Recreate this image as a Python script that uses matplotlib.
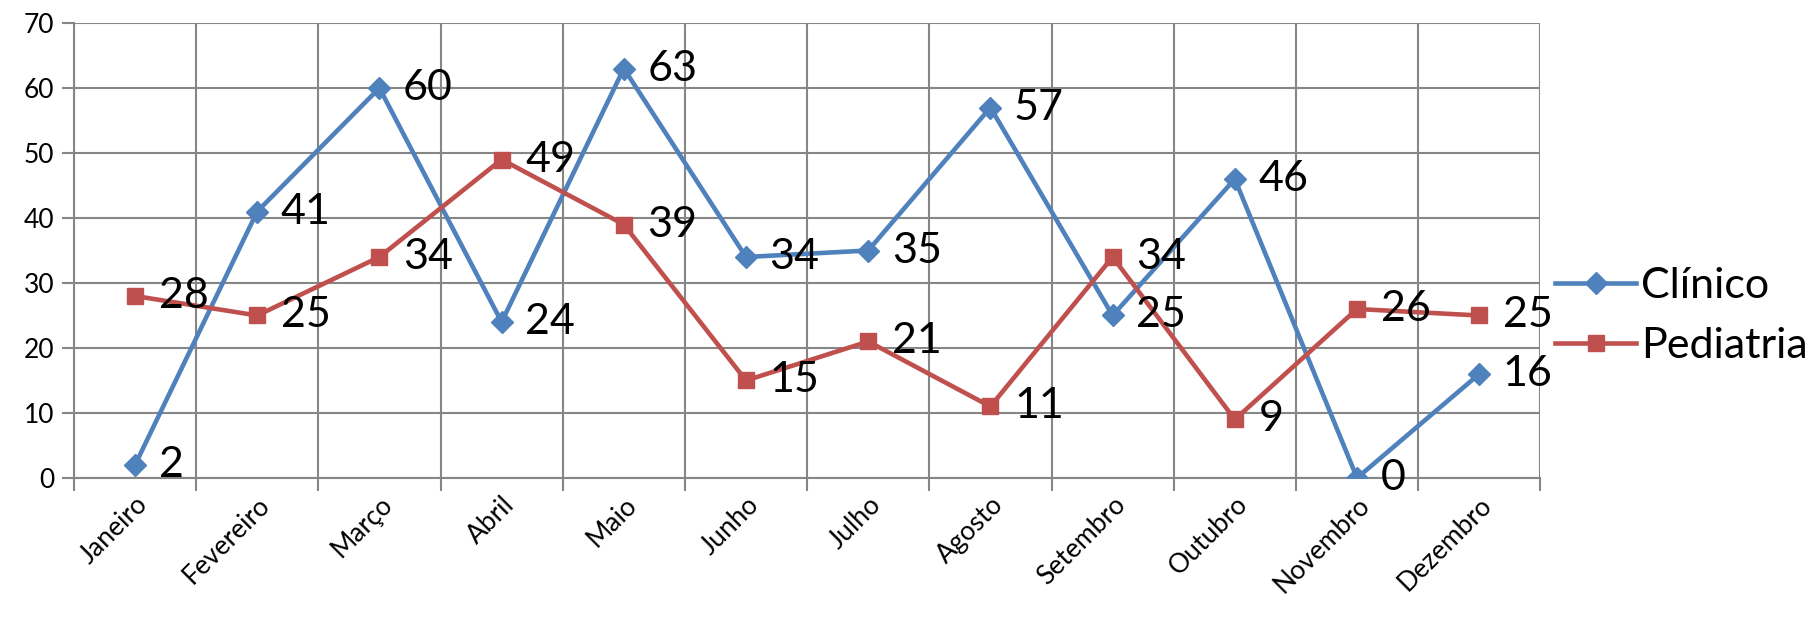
import matplotlib.pyplot as plt

plt.rcParams['font.family'] = ['Lato', 'DejaVu Sans']

meses = ['Janeiro', 'Fevereiro', 'Março', 'Abril', 'Maio', 'Junho', 'Julho',
         'Agosto', 'Setembro', 'Outubro', 'Novembro', 'Dezembro']
clinico = [2, 41, 60, 24, 63, 34, 35, 57, 25, 46, 0, 16]
pediatria = [28, 25, 34, 49, 39, 15, 21, 11, 34, 9, 26, 25]

azul = '#4F81BD'
vermelho = '#C0504D'
cinza = '#868686'

fig = plt.figure(figsize=(18.16, 6.17), dpi=100)
ax = fig.add_axes([0.0407, 0.2253, 0.8075, 0.7374])

x = list(range(len(meses)))
ax.plot(x, clinico, color=azul, linewidth=3.3, marker='D', markersize=11,
        label='Clínico', zorder=3)
ax.plot(x, pediatria, color=vermelho, linewidth=3.3, marker='s', markersize=11,
        label='Pediatria', zorder=3)

# rotulos de dados a direita de cada ponto
for xi, v in zip(x, clinico):
    ax.annotate(str(v), (xi, v), xytext=(17, 0), textcoords='offset points',
                ha='left', va='center', fontsize=31, zorder=4)
for xi, v in zip(x, pediatria):
    ax.annotate(str(v), (xi, v), xytext=(17, 0), textcoords='offset points',
                ha='left', va='center', fontsize=31, zorder=4)

ax.set_xlim(-0.5, len(meses) - 0.5)
ax.set_ylim(0, 70)
ax.set_yticks(range(0, 71, 10))
ax.set_xticks(x)
ax.set_xticklabels(meses, rotation=45, ha='right', rotation_mode='anchor', fontsize=19)
ax.set_xticks([i - 0.5 for i in range(len(meses) + 1)], minor=True)
ax.tick_params(axis='x', which='major', length=0, pad=10)
ax.tick_params(axis='x', which='minor', length=9, width=1.5, color=cinza)
ax.tick_params(axis='y', length=9, width=1.5, color=cinza, labelsize=19, pad=5)

ax.grid(True, which='major', axis='y', color=cinza, linewidth=1.5)
ax.grid(True, which='minor', axis='x', color=cinza, linewidth=1.5)
ax.set_axisbelow(True)
for s in ['left', 'bottom']:
    ax.spines[s].set_color(cinza)
    ax.spines[s].set_linewidth(1.5)
for s in ['top', 'right']:
    ax.spines[s].set_visible(False)

ax.legend(loc='center left', bbox_to_anchor=(0.998, 0.356), frameon=False,
          fontsize=31, handlelength=1.9, handletextpad=0.1, labelspacing=0.5,
          borderaxespad=0)

plt.savefig('out.png', dpi=100)
